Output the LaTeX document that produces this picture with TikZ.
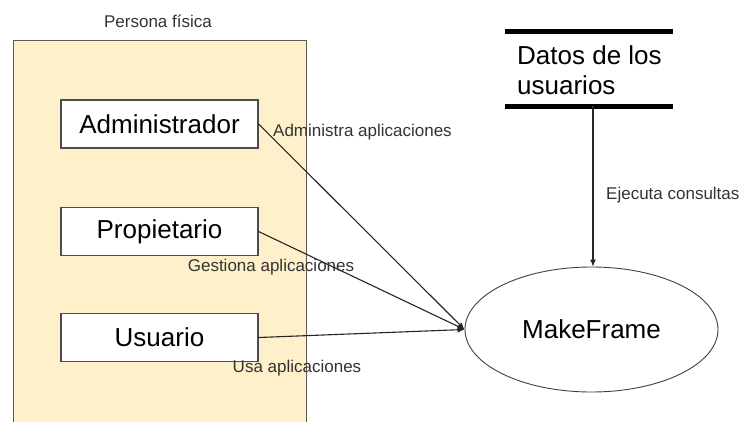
\documentclass[tikz,border=0pt]{standalone}
\usepackage{fontspec}
\setmainfont{Liberation Sans}
\usetikzlibrary{arrows.meta,shapes.geometric}
\definecolor{persfill}{HTML}{FEF0CA}
\definecolor{persborder}{HTML}{5E5A50}
\definecolor{labelgray}{HTML}{333333}
\begin{document}
\begin{tikzpicture}[x=1pt,y=-1pt,
  actor/.style={draw=black!70,fill=white,line width=1.2pt,minimum width=197pt,minimum height=48pt,inner sep=0pt,font=\fontsize{26}{30}\selectfont},
  lbl/.style={text=labelgray,inner sep=0pt,font=\fontsize{17}{20}\selectfont},
  flow/.style={draw=black!85,line width=1.1pt,-{Latex[length=7pt,width=6pt]}}]
\useasboundingbox (0,0) rectangle (739,421);
\fill[white] (0,0) rectangle (739,421);
\node[draw=persborder,fill=persfill,line width=1.3pt,minimum width=293pt,minimum height=395pt,inner sep=0pt,anchor=north west] (pf) at (13,40) {};
\node[lbl] (pft) at (158,21) {Persona física};
\node[actor] (adm) at (159.5,124) {Administrador};
\node[actor] (pro) at (159.5,231.5) {Propietario};
\node[actor] (usu) at (159.5,337.5) {Usuario};
\node[draw=black!75,line width=0.9pt,ellipse,minimum width=253pt,minimum height=125pt,inner sep=0pt,font=\fontsize{26}{30}\selectfont] (mf) at (591.5,329.5) {MakeFrame};
\node[minimum width=168pt,minimum height=74pt,inner sep=0pt] (ds) at (589,69) {};
\node[anchor=west,align=left,inner sep=0pt,font=\fontsize{26}{30}\selectfont] (dst) at (517,70) {Datos de los\\usuarios};
\draw[line width=5pt] (ds.north west) -- (ds.north east);
\draw[line width=5pt] (ds.south west) -- (ds.south east);
\draw[flow] (adm.east) -- (mf.west);
\draw[flow] (pro.east) -- (mf.west);
\draw[flow] (usu.east) -- (mf.west);
\draw[flow] (ds.south -| 593,0) -- (mf.north -| 593,0);
\node[lbl,anchor=west] (la) at (273,132) {Administra aplicaciones};
\node[lbl] (lg) at (271,267) {Gestiona aplicaciones};
\node[lbl] (lu) at (297,368) {Usa aplicaciones};
\node[lbl,anchor=west] (le) at (606,195) {Ejecuta consultas};
\end{tikzpicture}
\end{document}
